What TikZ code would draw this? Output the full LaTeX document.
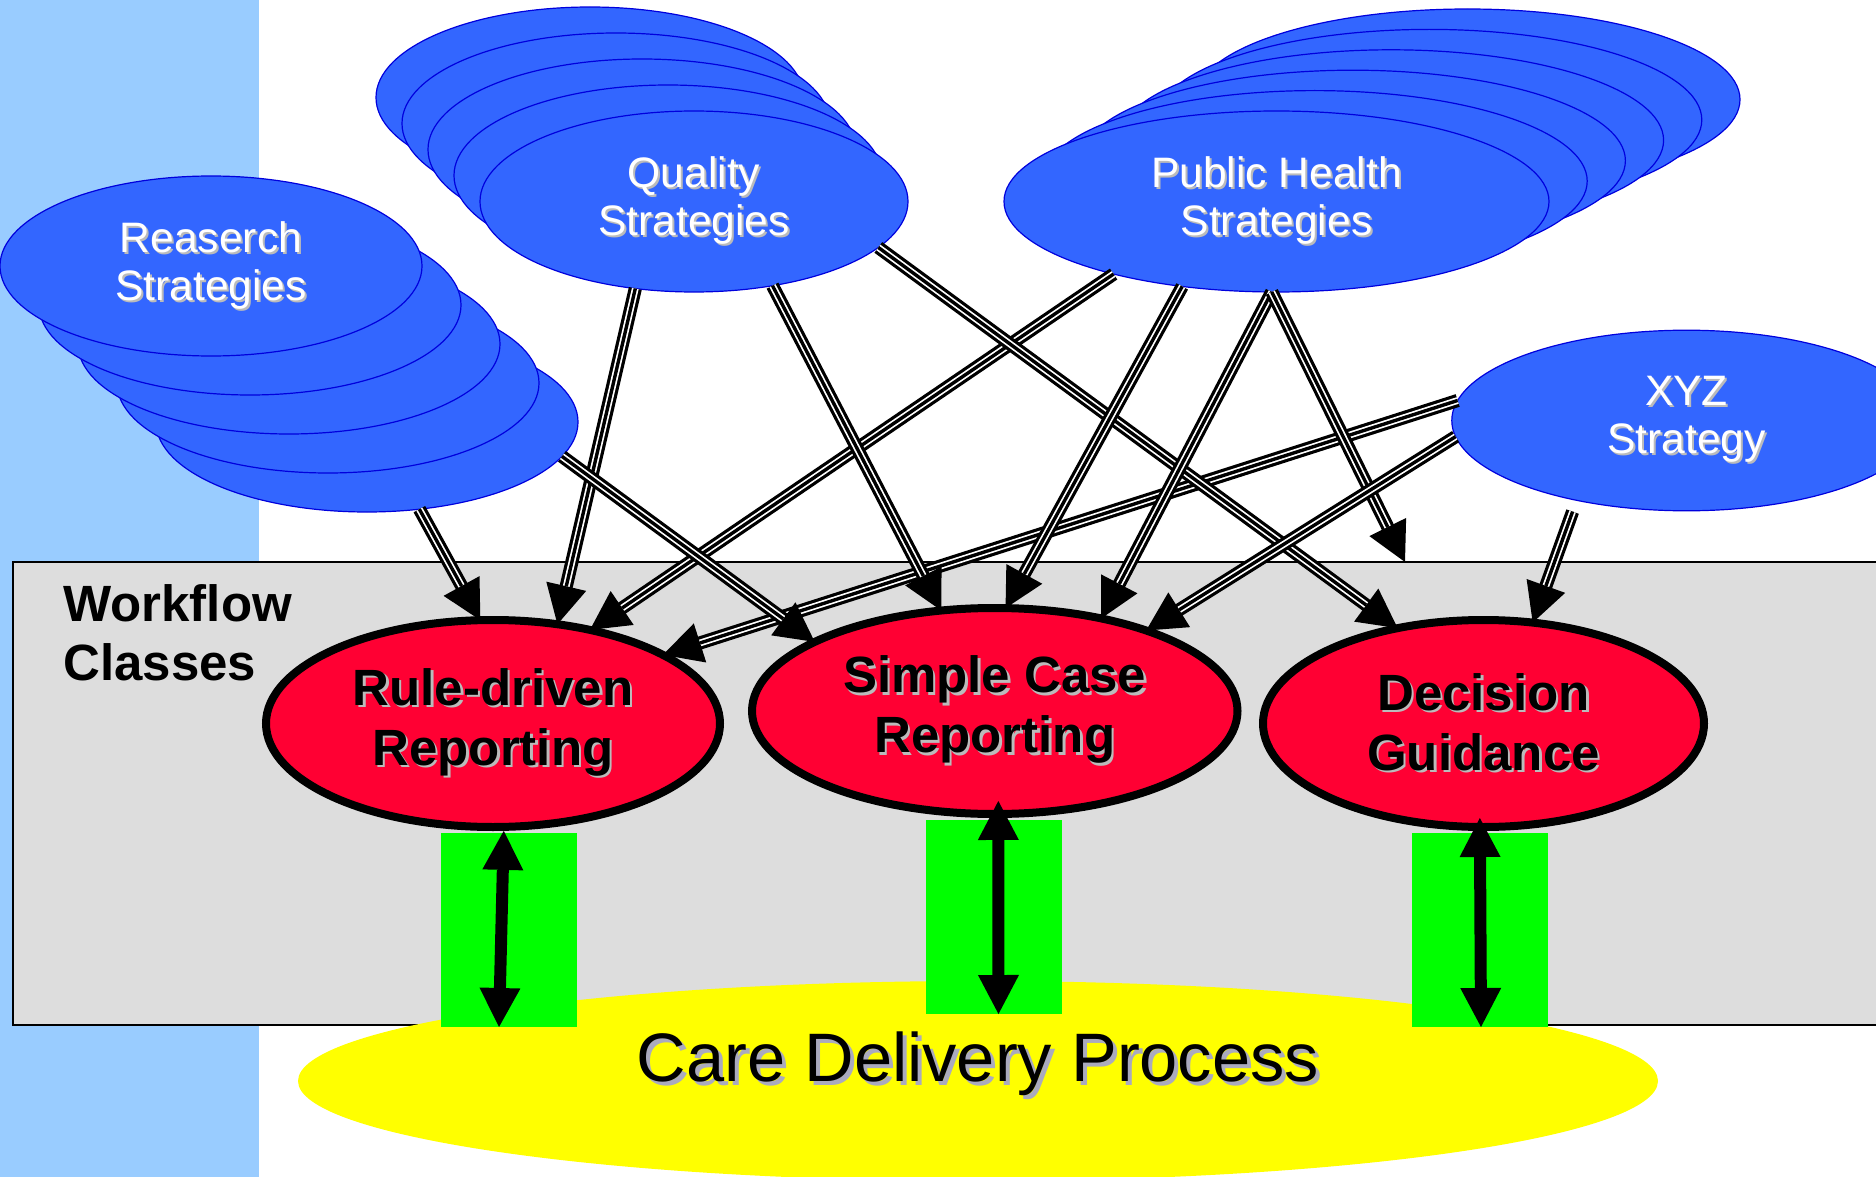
\documentclass[tikz,border=0pt]{standalone}
\usepackage{fontspec}
\setmainfont{Liberation Sans}
\usetikzlibrary{shapes.geometric,arrows.meta}
\definecolor{lblue}{HTML}{99CCFF}
\definecolor{sblue}{HTML}{3366FF}
\definecolor{sedge}{HTML}{0000DD}
\definecolor{wfgray}{HTML}{DDDDDD}
\definecolor{cred}{HTML}{FF0033}
\definecolor{cyel}{HTML}{FFFF00}
\definecolor{cgreen}{HTML}{00FF00}
\definecolor{shgray}{HTML}{BBBBBB}
\definecolor{shcdp}{HTML}{AAAABE}
\newcommand{\shtxt}[3]{\leavevmode\rlap{\hspace*{#2}\raisebox{-#2}{\textcolor{#1}{#3}}}#3}
\newcommand{\ws}[1]{\shtxt{shgray}{1pt}{#1}}
\newcommand{\bs}[1]{\shtxt{shgray}{1.2pt}{#1}}
\tikzset{
  strat/.style={ellipse, draw=sedge, fill=sblue, line width=0.6pt, inner sep=0pt, outer sep=0pt,
    text=white, align=center, font=\fontsize{21.3pt}{24pt}\selectfont},
  resell/.style={strat, minimum width=211pt, minimum height=90pt},
  qualell/.style={strat, minimum width=214pt, minimum height=90.5pt},
  phell/.style={strat, minimum width=272.5pt, minimum height=90.5pt},
  xyzell/.style={strat, minimum width=234.7pt, minimum height=90.3pt},
  wcls/.style={ellipse, draw=black, line width=4pt, fill=cred, inner sep=0pt, outer sep=0pt,
    align=center, font=\bfseries\fontsize{25.5pt}{30pt}\selectfont},
  wfbox/.style={rectangle, draw=black, line width=0.75pt, fill=wfgray, inner sep=0pt, outer sep=0pt,
    minimum width=943.5pt, minimum height=231.5pt},
  gbox/.style={rectangle, fill=cgreen, minimum width=68pt, minimum height=97pt, inner sep=0pt, outer sep=0pt},
  cdp/.style={ellipse, fill=cyel, minimum width=680pt, minimum height=100pt, inner sep=0pt, outer sep=0pt,
    text height=0pt, text depth=0pt, font=\fontsize{34.3pt}{40pt}\selectfont},
  triple/.style={draw=black, line width=1.7pt, line cap=butt,
    -{Triangle[length=19.5pt,width=20.5pt,line width=0pt]},
    preaction={draw=black, line width=6.6pt, arrows=-, shorten >=12pt},
    preaction={draw=white, line width=3.4pt, arrows=-, shorten >=12pt}},
  dbl/.style={draw=black, line width=6pt,
    {Triangle[length=19.5pt,width=20.5pt,line width=0pt]}-{Triangle[length=19.5pt,width=20.5pt,line width=0pt]}}
}
\begin{document}
\begin{tikzpicture}[x=0.5pt, y=-0.5pt]
\useasboundingbox (0,0) rectangle (1876,1177);
\clip (0,0) rectangle (1876,1177);
% background strip
\fill[lblue] (0,0) rectangle (259,1177);
% workflow classes box
\node[wfbox] (wf) at (956.5,793.5) {};
% research stack
\node[resell] (r5) at (367,422) {};
\node[resell] (r4) at (328,383) {};
\node[resell] (r3) at (289,344) {};
\node[resell] (r2) at (250,305) {};
\node[resell] (r1) at (211,266) {\ws{Reaserch}\\\ws{Strategies}};
% quality stack
\node[qualell] (q5) at (590,97.5) {};
\node[qualell] (q4) at (616,123.5) {};
\node[qualell] (q3) at (642,149.5) {};
\node[qualell] (q2) at (668,175.5) {};
\node[qualell] (q1) at (694,201.5) {\ws{Quality}\\\ws{Strategies}};
% public health stack
\node[phell] (p6) at (1467.5,99.5) {};
\node[phell] (p5) at (1429.3,119.9) {};
\node[phell] (p4) at (1391.1,140.3) {};
\node[phell] (p3) at (1352.9,160.7) {};
\node[phell] (p2) at (1314.7,181.1) {};
\node[phell] (p1) at (1276.5,201.5) {\ws{Public Health}\\\ws{Strategies}};
% xyz
\node[xyzell] (xyz) at (1686.5,420.5) {\ws{XYZ}\\\ws{Strategy}};
% care delivery
\node[cdp] (care) at (978,1081) {\shtxt{shcdp}{2pt}{Care Delivery Process}};
% green boxes
\node[gbox] (g1) at (509,930) {};
\node[gbox] (g2) at (994,917) {};
\node[gbox] (g3) at (1480,930) {};
% workflow class ellipses
\node[wcls, minimum width=227pt, minimum height=103.5pt] (rule) at (493,723.5) {\bs{Rule-driven}\\\bs{Reporting}};
\node[wcls, minimum width=242.75pt, minimum height=103pt] (sc) at (994.75,711) {\bs{Simple Case}\\\bs{Reporting}};
\node[wcls, minimum width=220.5pt, minimum height=103.5pt] (dg) at (1483.5,723.5) {\bs{Decision}\\\bs{Guidance}};
\node[anchor=north west, inner sep=0pt, align=left, font=\bfseries\fontsize{25.5pt}{29.5pt}\selectfont] (wfl) at (63,584) {Workflow\\Classes};
% strategy connectors
\coordinate (phend) at (1405,562);
\draw[triple] (r5.301.9) -- (rule.97.5);
\draw[triple] (q1.236.8) -- (rule.57.9);
\draw[triple] (p1.204.4) -- (rule.44);
\draw[triple] (xyz.175.5) -- (rule.22.3);
\draw[triple] (r5.350.1) -- (sc.159.3);
\draw[triple] (q1.313.7) -- (sc.118.7);
\draw[triple] (q1.346.7) -- (dg.132.9);
\draw[triple] (p1.222.5) -- (sc.84.6);
\draw[triple] (p1.267.8) -- (sc.41.8);
\draw[triple] (p1.267.8) -- (phend);
\draw[triple] (xyz.184.9) -- (sc.28.8);
\draw[triple, shorten <=6pt] (xyz.216.6) -- (dg.64.7);
% process links
\coordinate (b1) at (499,1027);
\coordinate (b2) at (998.5,1014);
\coordinate (b3) at (1481,1027);
\draw[dbl, shorten >=2pt] (b1) -- (rule.276.6);
\draw[dbl, shorten >=-6.5pt] (b2) -- (sc.272);
\draw[dbl, shorten >=-4.5pt] (b3) -- (dg.268.6);
\end{tikzpicture}
\end{document}
